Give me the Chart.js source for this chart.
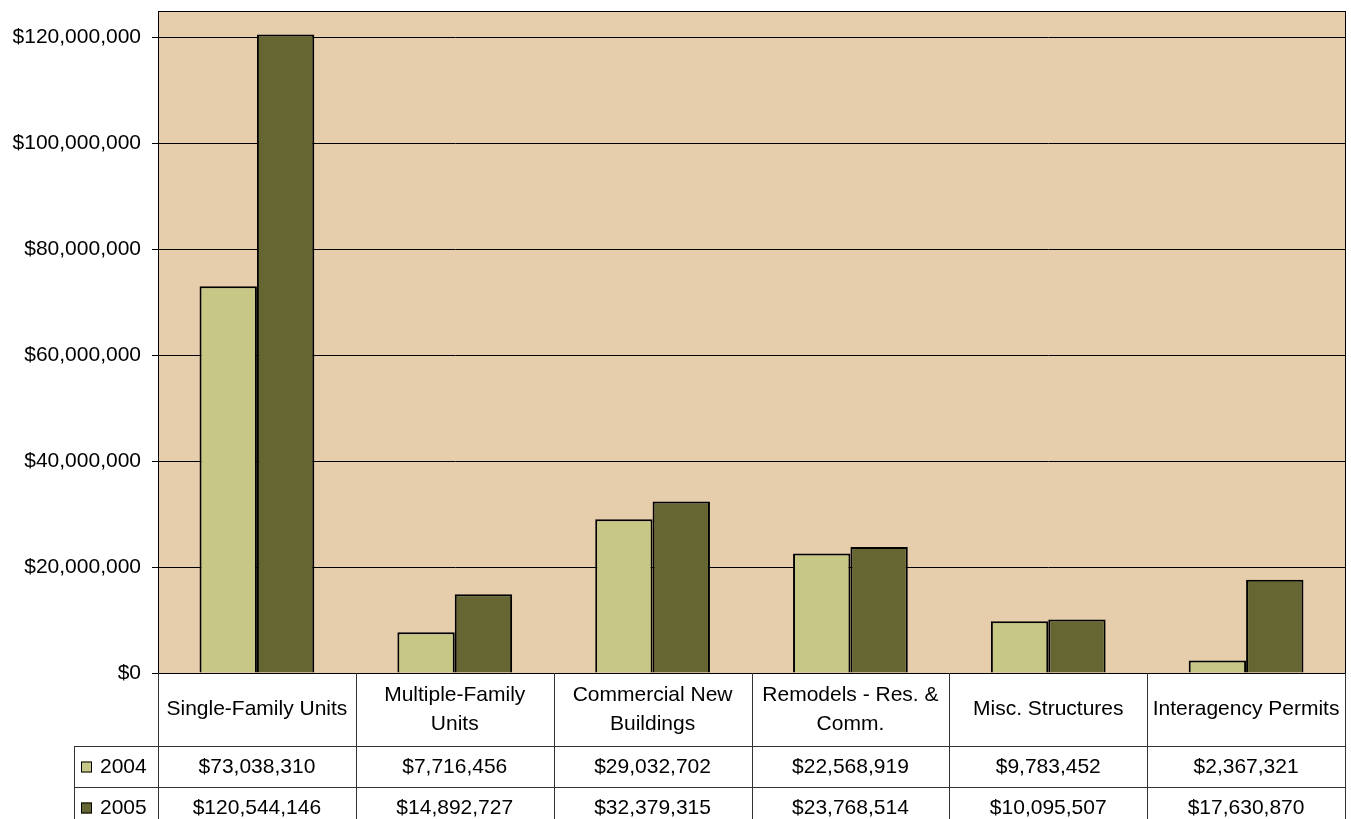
<!DOCTYPE html>
<html>
<head>
<meta charset="utf-8">
<title>Building Permit Valuation 2004 - 2005</title>
<script src="https://cdn.jsdelivr.net/npm/chart.js@4.4.1/dist/chart.umd.min.js"></script>
<style>
  html, body { margin: 0; padding: 0; background: #fff; }
  canvas { display: block; }
</style>
</head>
<body>
<canvas id="permitChart" width="1351" height="819"></canvas>
<script>
const categories = [
    ['Single-Family Units'],
    ['Multiple-Family', 'Units'],
    ['Commercial New', 'Buildings'],
    ['Remodels - Res. &', 'Comm.'],
    ['Misc. Structures'],
    ['Interagency Permits']
];
const seriesNames = ['2004', '2005'];
const values2004 = [73038310, 7716456, 29032702, 22568919, 9783452, 2367321];
const values2005 = [120544146, 14892727, 32379315, 23768514, 10095507, 17630870];
const yTicks = [0, 20000000, 40000000, 60000000, 80000000, 100000000, 120000000];
const yMax = 125000000;

const FONT = "'Liberation Sans', Arial, sans-serif";
const colors = ['#C7C786', '#666633'];

function money(v) {
    return '$' + Math.round(v).toLocaleString('en-US');
}

// tan plot background and its outline
const plotFrame = {
    id: 'plotFrame',
    beforeDraw(chart) {
        const { ctx, chartArea: a } = chart;
        ctx.save();
        ctx.fillStyle = '#E6CDAB';
        ctx.fillRect(a.left, a.top, a.right - a.left, a.bottom - a.top);
        ctx.restore();
    },
    afterDraw(chart) {
        const { ctx, chartArea: a } = chart;
        ctx.save();
        ctx.strokeStyle = '#000';
        ctx.lineWidth = 1;
        ctx.strokeRect(Math.round(a.left) + 0.5, Math.round(a.top) + 0.5,
            Math.round(a.right - a.left), Math.round(a.bottom - a.top));
        ctx.restore();
    }
};

// data table under the plot, columns follow the x scale
const dataTable = {
    id: 'dataTable',
    afterDraw(chart) {
        const { ctx, chartArea: a } = chart;
        const x = chart.scales.x;
        const colW = (a.right - a.left) / categories.length;
        const top = Math.round(a.bottom);
        const headerBottom = top + 73;
        const rowH = 41;
        const tableBottom = headerBottom + rowH * 2;
        const legendLeft = 74;

        ctx.save();
        ctx.lineWidth = 1;
        ctx.strokeStyle = '#333';

        // vertical column lines
        for (let i = 0; i <= categories.length; i++) {
            const px = Math.round(a.left + i * colW) + 0.5;
            ctx.beginPath();
            ctx.moveTo(px, top);
            ctx.lineTo(px, tableBottom);
            ctx.stroke();
        }
        ctx.beginPath();
        ctx.moveTo(legendLeft + 0.5, headerBottom);
        ctx.lineTo(legendLeft + 0.5, tableBottom);
        ctx.stroke();

        // row separators
        for (let r = 0; r < 2; r++) {
            const py = headerBottom + r * rowH + 0.5;
            ctx.beginPath();
            ctx.moveTo(legendLeft, py);
            ctx.lineTo(Math.round(a.right) + 1, py);
            ctx.stroke();
        }

        ctx.fillStyle = '#000';
        ctx.font = '21px ' + FONT;
        ctx.textAlign = 'center';
        ctx.textBaseline = 'middle';

        // category headings
        const headMid = (top + headerBottom) / 2;
        const lineH = 29;
        categories.forEach((lines, i) => {
            const cx = x.getPixelForValue(i);
            const y0 = headMid - (lines.length - 1) * lineH / 2;
            lines.forEach((ln, k) => ctx.fillText(ln, cx, y0 + k * lineH));
        });

        // value rows with legend keys
        [values2004, values2005].forEach((vals, r) => {
            const cy = headerBottom + r * rowH + rowH / 2 + 1;
            vals.forEach((v, i) => {
                ctx.textAlign = 'center';
                ctx.fillText(money(v), x.getPixelForValue(i), cy);
            });
            ctx.fillStyle = colors[r];
            ctx.fillRect(81, cy - 6, 11, 11);
            ctx.strokeStyle = '#000';
            ctx.strokeRect(81.5, cy - 5.5, 10, 10);
            ctx.fillStyle = '#000';
            ctx.textAlign = 'left';
            ctx.fillText(seriesNames[r], 100, cy);
        });
        ctx.restore();
    }
};

new Chart(document.getElementById('permitChart'), {
    type: 'bar',
    data: {
        labels: categories,
        datasets: [{
            label: seriesNames[0],
            data: values2004,
            backgroundColor: colors[0],
            borderColor: '#000',
            borderWidth: 2,
            categoryPercentage: 0.58,
            barPercentage: 1.0
        }, {
            label: seriesNames[1],
            data: values2005,
            backgroundColor: colors[1],
            borderColor: '#000',
            borderWidth: 2,
            categoryPercentage: 0.58,
            barPercentage: 1.0
        }]
    },
    options: {
        responsive: false,
        animation: false,
        layout: { padding: { top: 11, right: 6, bottom: 146, left: 0 } },
        plugins: {
            legend: { display: false },
            tooltip: { enabled: false }
        },
        scales: {
            x: { display: false },
            y: {
                min: 0,
                max: yMax,
                afterBuildTicks(scale) {
                    scale.ticks = yTicks.map(v => ({ value: v }));
                },
                afterFit(scale) {
                    scale.width = 158;
                    scale.paddingTop = 0;
                    scale.paddingBottom = 0;
                },
                ticks: {
                    color: '#000',
                    padding: 11,
                    font: { family: FONT, size: 21 },
                    callback: v => money(v)
                },
                grid: { color: '#000', lineWidth: 1, tickLength: 6 },
                border: { display: true, color: '#000' }
            }
        }
    },
    plugins: [plotFrame, dataTable]
});
</script>
</body>
</html>
